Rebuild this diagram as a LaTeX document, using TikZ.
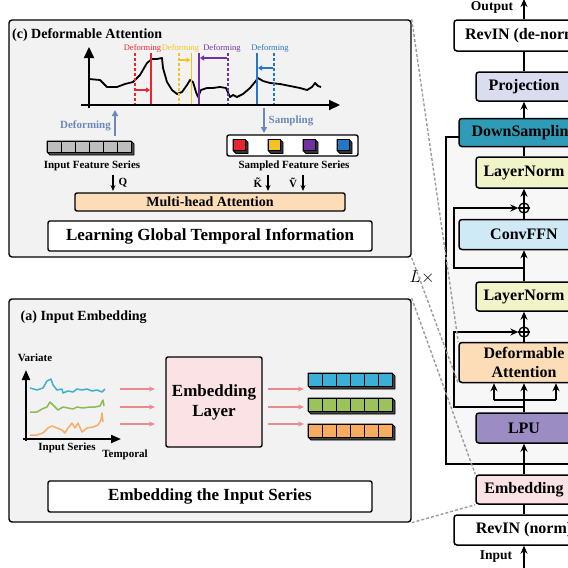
\documentclass[tikz,border=0pt]{standalone}
\usepackage{fontspec}
\setmainfont{Liberation Serif}
\usetikzlibrary{arrows.meta}
\definecolor{panelgray}{HTML}{F2F2F2}
\definecolor{framebg}{HTML}{F7F7F7}
\definecolor{peach}{HTML}{FCDDB8}
\definecolor{embpink}{HTML}{FBE3E5}
\definecolor{projcol}{HTML}{DADCF0}
\definecolor{downcol}{HTML}{2F9BB6}
\definecolor{lncol}{HTML}{F1F3C9}
\definecolor{ffncol}{HTML}{CFE9F7}
\definecolor{lpucol}{HTML}{9B8DC3}
\definecolor{dred}{HTML}{E8262E}
\definecolor{dyellow}{HTML}{F6C21E}
\definecolor{dpurple}{HTML}{7131A1}
\definecolor{dblue}{HTML}{2477C4}
\definecolor{steel}{HTML}{6B88B9}
\definecolor{pinkarrow}{HTML}{E98B8E}
\definecolor{scyan}{HTML}{3FAFCF}
\definecolor{sgreen}{HTML}{8DB957}
\definecolor{sorange}{HTML}{F5AE66}
\definecolor{cblue}{HTML}{3AB0D6}
\definecolor{cgreen}{HTML}{9CC35B}
\definecolor{corange}{HTML}{F9AB60}
\definecolor{cgray}{HTML}{BEBEBE}
\definecolor{zoomgray}{HTML}{9C9C9C}
\newcommand\mycuberow[7]{%
  \filldraw[fill=#7, line width=0.8pt, line join=round] (#1,#2) -- ({#1+#3*#5},#2) -- ({#1+#3*#5+3},{#2+3}) -- ({#1+#3*#5+3},{#2+#6+3}) -- ({#1+3},{#2+#6+3}) -- (#1,{#2+#6}) -- cycle;
  \foreach \i in {1,...,#3}{\draw[fill=#4, line width=0.8pt] ({#1+(\i-1)*#5},#2) rectangle ++(#5,#6);}
}
\tikzset{
  box/.style={draw=black, line width=1.5pt, rounded corners=3pt, inner sep=0pt, align=center, font=\bfseries\fontsize{16}{19}\selectfont},
  lbl/.style={font=\bfseries\fontsize{11}{13}\selectfont, inner sep=0pt},
  ar/.style={line width=1.5pt, -{Stealth[length=8pt,width=7pt]}},
  ar2/.style={line width=1.4pt, -{Stealth[length=6pt,width=5pt]}},
  lnk/.style={line width=1.5pt},
  zoomline/.style={draw=zoomgray, line width=1.4pt, dash pattern=on 3pt off 2pt},
  panel/.style={draw=black, line width=1.4pt, fill=panelgray, rounded corners=3pt, inner sep=0pt},
  plusnode/.style={circle, draw, line width=1.3pt, minimum size=10pt, inner sep=0pt},
  deflbl/.style={font=\fontsize{8.5}{10}\selectfont, inner sep=0pt},
  dline/.style={line width=1.5pt, dash pattern=on 3pt off 2pt},
  sline/.style={line width=1.8pt},
  smallarr/.style={line width=1.4pt, -{Triangle[length=4pt,width=5pt]}},
  bigaxis/.style={line width=2.2pt, -{Triangle[length=11pt,width=10pt]}},
  pinkar/.style={pinkarrow, line width=1.5pt, -{Stealth[length=6pt,width=5pt]}},
  steelar/.style={steel, line width=1.4pt, -{Triangle[length=6pt,width=6pt]}},
  plainbox/.style={draw=black, line width=1.4pt, rounded corners=2pt, inner sep=0pt, align=center}
}
\begin{document}
\begin{tikzpicture}[x=1pt,y=-1pt]
\useasboundingbox (0,0) rectangle (568,568);
\clip (0,0) rectangle (568,568);
\fill[white] (0,0) rectangle (568,568);
% block frame
\fill[framebg] (446,137) rectangle (600,464);
\draw[lnk] (459,137) -- (446,137) -- (446,464) -- (600,464);

% ---------------- panel (c)
\node[panel, minimum width=402pt, minimum height=237pt] (pc) at (210,138.5) {};
\node[anchor=west, font=\bfseries\fontsize{14}{16}\selectfont, inner sep=0pt] (pctitle) at (12,35) {(c) Deformable Attention};
\draw[line width=1.8pt, line join=round] plot coordinates {(89,79) (100,80) (107,87) (117,87) (125,84) (133,82) (140,75) (147,63) (152,59) (157,59) (162,58) (163,68) (167,82) (172,90) (177,94) (182,92) (187,85) (190,80) (193,82) (196,92) (198,97) (201,90) (207,88) (213,88) (220,87) (226,88) (230,97) (233,95) (237,97) (243,94) (250,88) (255,82) (258,78) (263,81) (270,83) (280,84) (290,86) (300,88) (307,90) (312,87) (315,83) (318,86) (321,87)};
\draw[bigaxis] (89,108) -- (89,47);
\draw[bigaxis] (81,105) -- (340,105);
% red
\draw[dred, dline] (135,53) -- (135,104);
\draw[dred, sline] (151,53) -- (151,104);
\draw[dred, smallarr] (136,90) -- (150,90);
\node[deflbl, text=dred] (ldr) at (142.5,48.5) {Deforming};
% yellow
\draw[dyellow, dline] (179,53) -- (179,104);
\draw[dyellow, sline] (191.5,53) -- (191.5,104);
\draw[dyellow, smallarr] (180,60) -- (190.5,60);
\node[deflbl, text=dyellow] (ldy) at (180.5,48.5) {Deforming};
% purple
\draw[dpurple, sline] (199,53) -- (199,104);
\draw[dpurple, dline] (228,53) -- (228,104);
\draw[dpurple, smallarr] (227,58) -- (200,58);
\node[deflbl, text=dpurple] (ldp) at (222,48.5) {Deforming};
% blue
\draw[dblue, sline] (257,53) -- (257,104);
\draw[dblue, dline] (274,53) -- (274,104);
\draw[dblue, smallarr] (273,68) -- (258,68);
\node[deflbl, text=dblue] (ldb) at (270,48.5) {Deforming};
% deform / sampling
\node[lbl, text=steel] (deflab) at (85.5,125.5) {Deforming};
\coordinate (defa) at (115,136);
\coordinate (defb) at (115,110);
\draw[steelar] (defa) -- (defb);
\node[lbl, text=steel] (samlab) at (291,121) {Sampling};
\coordinate (sama) at (264,108);
\coordinate (samb) at (264,133);
\draw[steelar] (sama) -- (samb);
% input feature series
\mycuberow{47}{141}{6}{cgray}{14}{11}{black!70}
\node[lbl] (ifs) at (92,166) {Input Feature Series};
% sampled
\node[plainbox, fill=white, minimum width=131pt, minimum height=21pt] (sfsbox) at (292.5,145.5) {};
\mycuberow{233}{139.5}{1}{dred}{12}{11}{black!80}
\mycuberow{268}{139.5}{1}{dyellow}{12}{11}{black!80}
\mycuberow{303}{139.5}{1}{dpurple}{12}{11}{black!80}
\mycuberow{337}{139.5}{1}{dblue}{12}{11}{black!80}
\node[lbl] (sfs) at (294,166) {Sampled Feature Series};
% multi-head
\node[plainbox, fill=peach, minimum width=270pt, minimum height=18pt, font=\bfseries\fontsize{14}{16}\selectfont] (mha) at (210,202) {Multi-head Attention};
\coordinate (qa) at (113,175); \coordinate (qb) at (113,191);
\draw[ar2] (qa) -- (qb);
\node[lbl] (qlbl) at (123,183) {Q};
\coordinate (ka) at (268,175); \coordinate (kb) at (268,191);
\draw[ar2] (ka) -- (kb);
\node[lbl] (klbl) at (258,183) {\~{K}};
\coordinate (va) at (303,175); \coordinate (vb) at (303,191);
\draw[ar2] (va) -- (vb);
\node[lbl] (vlbl) at (293,183) {\~{V}};
\node[plainbox, fill=white, minimum width=324pt, minimum height=30pt, font=\bfseries\fontsize{17}{19}\selectfont] (lgti) at (210,236) {Learning Global Temporal Information};

% ---------------- panel (a)
\node[panel, minimum width=402pt, minimum height=223pt] (pa) at (210,410.5) {};
\node[anchor=west, font=\bfseries\fontsize{14}{16}\selectfont, inner sep=0pt] (patitle) at (20.5,317) {(a) Input Embedding};
\draw[scyan, line width=1.5pt, line join=round] plot coordinates {(30,388) (37,390) (43,388) (47,381) (51,379) (53,385) (57,390) (62,389) (63,393) (68,391) (73,392) (77,389) (82,390) (87,389) (92,391) (97,390) (102,392) (105,389)};
\draw[sgreen, line width=1.5pt, line join=round] plot coordinates {(30,412) (37,412) (42,409) (47,407) (50,402) (53,405) (58,410) (63,407) (68,408) (73,409) (77,407) (83,408) (90,407) (95,407) (100,406) (103,400) (104,406)};
\draw[sorange, line width=1.5pt, line join=round] plot coordinates {(30,435) (37,435) (43,433) (48,428) (52,426) (57,428) (62,430) (65,433) (68,428) (72,423) (75,428) (78,423) (82,432) (87,428) (93,427) (98,425) (101,420) (102,413) (103,422)};
\draw[line width=2pt, -{Triangle[length=10pt,width=8pt]}] (26,441) -- (26,370);
\draw[line width=2pt, -{Triangle[length=10pt,width=8pt]}] (23,439) -- (121,439);
\node[lbl] (variate) at (35,358) {Variate};
\node[lbl] (inser) at (67,448) {Input Series};
\node[lbl] (tempo) at (125,455) {Temporal};
\node[plainbox, fill=embpink, minimum width=96pt, minimum height=90pt, font=\bfseries\fontsize{17}{20}\selectfont] (el) at (214,402) {Embedding\\Layer};
\foreach \yy/\nm in {389/a,407/b,424/c}{
  \coordinate (pl\nm) at (120,\yy); \coordinate (pr\nm) at (155,\yy);
  \coordinate (ql\nm) at (268,\yy); \coordinate (qr\nm) at (304,\yy);
  \draw[pinkar] (pl\nm) -- (pr\nm);
  \draw[pinkar] (ql\nm) -- (qr\nm);
}
\mycuberow{308}{373}{6}{cblue}{14}{13}{black!75}
\mycuberow{308}{398}{6}{cgreen}{14}{13}{black!75}
\mycuberow{308}{424}{6}{corange}{14}{13}{black!75}
\node[plainbox, fill=white, minimum width=324pt, minimum height=31pt, font=\bfseries\fontsize{17}{19}\selectfont] (eis) at (210,496.5) {Embedding the Input Series};

% ---------------- right column
\node[box, fill=white, minimum width=140pt, minimum height=31pt] (revout) at (524,35.5) {RevIN (de-norm)};
\node[box, fill=projcol, minimum width=96pt, minimum height=29pt] (proj) at (524,86.5) {Projection};
\node[box, fill=downcol, minimum width=130pt, minimum height=28pt] (down) at (524,132.5) {DownSampling};
\node[box, fill=lncol, minimum width=96pt, minimum height=31pt] (ln1) at (524,172.5) {LayerNorm};
\node[plusnode] (plus1) at (524,208) {};
\node[box, fill=ffncol, minimum width=130pt, minimum height=30pt] (ffn) at (524,234.5) {ConvFFN};
\node[box, fill=lncol, minimum width=96pt, minimum height=29pt] (ln2) at (524,296.5) {LayerNorm};
\node[plusnode] (plus2) at (524,332) {};
\node[box, fill=peach, minimum width=130pt, minimum height=40pt] (da) at (524,362.5) {Deformable\\Attention};
\node[box, fill=lpucol, minimum width=96pt, minimum height=30pt] (lpu) at (524,428) {LPU};
\node[box, fill=embpink, minimum width=96pt, minimum height=29pt] (emb) at (524,489.5) {Embedding};
\node[box, fill=white, minimum width=140pt, minimum height=30pt] (revin) at (524,530) {RevIN (norm)};
\draw[line width=1.2pt] (plus1.north) -- (plus1.south) (plus1.west) -- (plus1.east);
\draw[line width=1.2pt] (plus2.north) -- (plus2.south) (plus2.west) -- (plus2.east);

\coordinate (outtop) at (524,-1);
\draw[ar] (revout.north) -- (outtop);
\node[font=\bfseries\fontsize{13.5}{15}\selectfont, inner sep=0pt] (outlbl) at (492,7) {Output};
\draw[lnk] (proj.north) -- (revout.south);
\draw[ar] (down.north) -- (proj.south);
\draw[lnk] (ln1.north) -- (down.south);
\draw[ar] (plus1.north) -- (ln1.south);
\draw[lnk] (ffn.north) -- (plus1.south);
\draw[ar] (ln2.north) -- (ffn.south);
\coordinate (r1a) at (524,268); \coordinate (r1b) at (454,268); \coordinate (r1c) at (454,208);
\draw[ar] (r1a) -- (r1b) -- (r1c) -- (plus1.west);
\draw[ar] (plus2.north) -- (ln2.south);
\draw[lnk] (da.north) -- (plus2.south);
\coordinate (r2a) at (524,407); \coordinate (r2b) at (454,407); \coordinate (r2c) at (454,332);
\draw[ar] (r2a) -- (r2b) -- (r2c) -- (plus2.west);
\coordinate (jc) at (524,400); \coordinate (jl) at (494,400); \coordinate (jr) at (556,400);
\draw[lnk] (lpu.north) -- (jc);
\draw[lnk] (jl) -- (jr);
\draw[ar] (jc) -- (jc |- da.south);
\draw[ar] (jl) -- (jl |- da.south);
\draw[ar] (jr) -- (jr |- da.south);
\draw[ar] (emb.north) -- (lpu.south);
\draw[lnk] (revin.north) -- (emb.south);
\coordinate (inbot) at (524,570);
\draw[ar] (inbot) -- (revin.south);
\node[font=\bfseries\fontsize{13.5}{15}\selectfont, inner sep=0pt] (inlbl) at (496,557) {Input};
\node[font=\fontsize{19}{21}\selectfont, inner sep=0pt] (lx) at (422,277) {$L\times$};

% zoom lines
\draw[zoomline] (pc.north east) -- (da.north west);
\draw[zoomline] (pc.south east) -- (da.south west);
\draw[zoomline] (pa.north east) -- (emb.north west);
\draw[zoomline] (pa.south east) -- (emb.south west);
\end{tikzpicture}
\end{document}
